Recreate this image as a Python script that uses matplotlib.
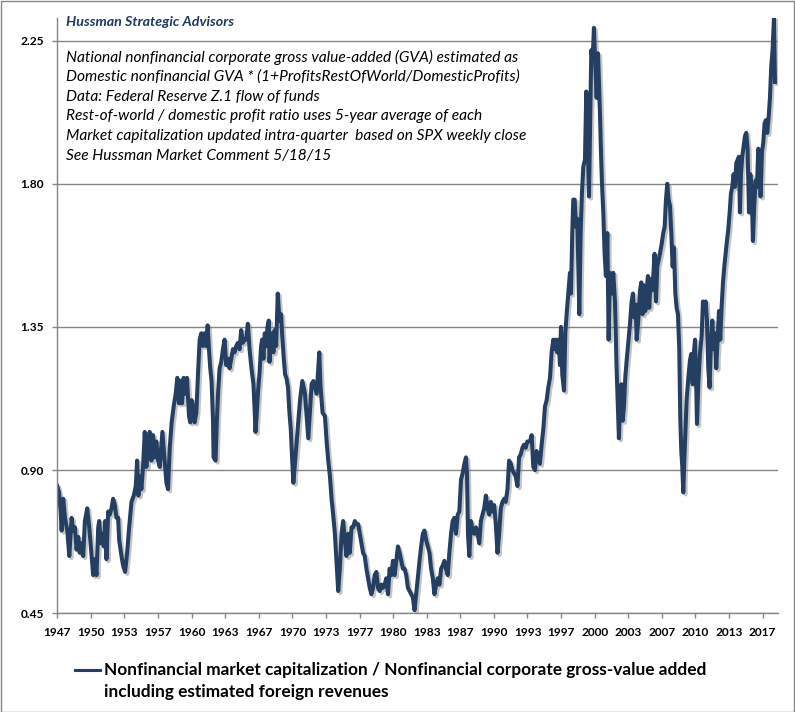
import matplotlib
matplotlib.use("Agg")
import matplotlib.pyplot as plt
import matplotlib.patheffects as pe
from matplotlib.lines import Line2D
from matplotlib.patches import Rectangle

# Nonfinancial market cap / nonfinancial GVA (incl. foreign revenues)
years = [
    1947.00, 1947.17, 1947.33, 1947.43, 1947.59, 1947.76, 1947.99, 1948.19, 1948.42, 1948.58,
    1948.75, 1948.91, 1949.08, 1949.24, 1949.41, 1949.57, 1949.74, 1949.97, 1950.17, 1950.40,
    1950.56, 1950.73, 1950.89, 1951.06, 1951.16, 1951.32, 1951.49, 1951.62, 1951.75, 1951.88,
    1952.05, 1952.21, 1952.38, 1952.54, 1952.71, 1952.87, 1953.04, 1953.14, 1953.37, 1953.53,
    1953.73, 1953.93, 1954.13, 1954.36, 1954.59, 1954.79, 1954.92, 1955.05, 1955.18, 1955.35,
    1955.51, 1955.68, 1955.84, 1956.01, 1956.17, 1956.34, 1956.50, 1956.67, 1956.83, 1957.00,
    1957.17, 1957.43, 1957.63, 1957.83, 1957.99, 1958.16, 1958.35, 1958.55, 1958.75, 1958.91,
    1959.08, 1959.21, 1959.38, 1959.54, 1959.67, 1959.87, 1960.07, 1960.20, 1960.33, 1960.47,
    1960.63, 1960.80, 1960.96, 1961.13, 1961.29, 1961.46, 1961.62, 1961.79, 1961.92, 1962.05,
    1962.18, 1962.31, 1962.45, 1962.51, 1962.71, 1962.84, 1962.97, 1963.11, 1963.27, 1963.44,
    1963.60, 1963.77, 1963.93, 1964.10, 1964.26, 1964.43, 1964.59, 1964.76, 1964.92, 1965.09,
    1965.25, 1965.42, 1965.58, 1965.75, 1965.91, 1966.08, 1966.27, 1966.47, 1966.57, 1966.67,
    1966.80, 1966.93, 1967.06, 1967.23, 1967.33, 1967.46, 1967.59, 1967.73, 1967.86, 1967.99,
    1968.06, 1968.19, 1968.32, 1968.45, 1968.58, 1968.72, 1968.88, 1969.05, 1969.21, 1969.31,
    1969.48, 1969.61, 1969.74, 1969.90, 1970.04, 1970.17, 1970.30, 1970.43,
    1970.76, 1971.09, 1971.32, 1971.58, 1971.91, 1972.24, 1972.41, 1972.74, 1973.00, 1973.13,
    1973.33, 1973.56, 1973.73, 1973.89, 1974.06, 1974.22, 1974.38, 1974.55, 1974.71, 1974.88,
    1975.04, 1975.21, 1975.37, 1975.54, 1975.70, 1975.87, 1976.03, 1976.20, 1976.36, 1976.53,
    1976.69, 1976.86, 1977.02, 1977.18, 1977.35, 1977.51, 1977.68, 1977.84, 1978.01, 1978.17,
    1978.34, 1978.50, 1978.67, 1978.83, 1979.00, 1979.16, 1979.33, 1979.49, 1979.65, 1979.82,
    1979.98, 1980.15, 1980.31, 1980.48, 1980.64, 1980.81, 1980.97, 1981.14, 1981.30, 1981.47,
    1981.63, 1981.80, 1981.96, 1982.13, 1982.29, 1982.45, 1982.62, 1982.78, 1982.95, 1983.11,
    1983.28, 1983.44, 1983.61, 1983.77, 1983.94, 1984.10, 1984.27, 1984.43, 1984.60, 1984.76,
    1984.93, 1985.09, 1985.25, 1985.42, 1985.58, 1985.75, 1985.91, 1986.08, 1986.24, 1986.41,
    1986.57, 1986.74, 1986.90, 1987.07, 1987.23, 1987.40, 1987.56, 1987.66, 1987.76, 1987.89,
    1988.05, 1988.22, 1988.38, 1988.55, 1988.71, 1988.88, 1989.04, 1989.21, 1989.37, 1989.54,
    1989.70, 1989.87, 1990.03, 1990.19, 1990.36, 1990.52, 1990.69, 1990.85, 1991.02, 1991.18,
    1991.35, 1991.51, 1991.68, 1991.84, 1992.01, 1992.17, 1992.34, 1992.50, 1992.67, 1992.83,
    1993.00, 1993.16, 1993.32, 1993.49, 1993.65,
    1993.91, 1994.08, 1994.24, 1994.41, 1994.57, 1994.74, 1994.90, 1995.07, 1995.24, 1995.40,
    1995.57, 1995.73, 1995.90, 1996.06, 1996.23, 1996.39, 1996.49, 1996.62, 1996.76, 1996.89,
    1996.99, 1997.12, 1997.29, 1997.42, 1997.55, 1997.72, 1997.88, 1997.98, 1998.11, 1998.21,
    1998.35, 1998.48, 1998.61, 1998.71, 1998.81, 1998.94, 1999.07, 1999.21, 1999.37, 1999.50,
    1999.64, 1999.77, 1999.90, 2000.00, 2000.13, 2000.26, 2000.40, 2000.53, 2000.66, 2000.76,
    2000.86, 2000.96, 2001.06, 2001.19, 2001.32, 2001.45, 2001.59, 2001.72, 2001.85, 2002.02,
    2002.18, 2002.35, 2002.51, 2002.61, 2002.74, 2002.84, 2002.98, 2003.11, 2003.24, 2003.37,
    2003.51, 2003.67, 2003.84, 2004.00, 2004.13, 2004.27, 2004.40, 2004.50, 2004.66, 2004.83,
    2004.96, 2005.09, 2005.23, 2005.36, 2005.49, 2005.62, 2005.75, 2005.89, 2006.02, 2006.15,
    2006.28, 2006.42, 2006.55, 2006.68, 2006.81, 2006.98, 2007.14, 2007.28, 2007.41, 2007.54,
    2007.67, 2007.81, 2007.94, 2008.07, 2008.20, 2008.34, 2008.47, 2008.60, 2008.73, 2008.83,
    2008.93, 2009.03, 2009.13, 2009.23, 2009.33, 2009.46, 2009.63, 2009.79, 2009.92, 2010.06,
    2010.15, 2010.29, 2010.39, 2010.49, 2010.62, 2010.78, 2010.95, 2011.08, 2011.21, 2011.35,
    2011.48, 2011.61, 2011.74, 2011.87, 2012.01, 2012.14, 2012.27, 2012.40, 2012.54, 2012.67,
    2012.80, 2012.93, 2013.07, 2013.20, 2013.33, 2013.46, 2013.59, 2013.73, 2013.86, 2013.99,
    2014.12, 2014.26, 2014.39, 2014.52, 2014.65, 2014.75, 2014.85, 2014.98, 2015.12, 2015.25,
    2015.38, 2015.51, 2015.65, 2015.78, 2015.91, 2016.04, 2016.17, 2016.31, 2016.44, 2016.57,
    2016.70, 2016.80, 2016.94, 2017.07, 2017.20, 2017.33, 2017.46, 2017.60, 2017.73, 2017.86,
    2017.99, 2018.13, 2018.23,
]
ratio = [
    0.85, 0.83, 0.77, 0.71, 0.81, 0.75, 0.71, 0.63, 0.75, 0.71,
    0.72, 0.65, 0.69, 0.64, 0.67, 0.63, 0.74, 0.78, 0.72, 0.63,
    0.57, 0.62, 0.57, 0.72, 0.74, 0.67, 0.70, 0.66, 0.74, 0.62,
    0.77, 0.76, 0.78, 0.81, 0.79, 0.75, 0.75, 0.68, 0.63, 0.60,
    0.58, 0.64, 0.72, 0.80, 0.82, 0.85, 0.93, 0.82, 0.88, 0.84,
    0.91, 1.02, 0.91, 0.99, 1.02, 0.93, 1.01, 0.94, 0.99, 0.93,
    0.91, 1.02, 0.94, 0.86, 0.84, 0.97, 1.05, 1.10, 1.14, 1.19,
    1.11, 1.18, 1.11, 1.19, 1.14, 1.19, 1.07, 1.05, 1.12, 1.10,
    1.05, 1.08, 1.20, 1.31, 1.33, 1.29, 1.33, 1.29, 1.355, 1.28,
    1.22, 1.18, 1.06, 0.94, 0.93, 1.06, 1.15, 1.22, 1.24, 1.28,
    1.31, 1.23, 1.25, 1.22, 1.25, 1.28, 1.27, 1.29, 1.30, 1.28,
    1.34, 1.30, 1.31, 1.31, 1.36, 1.28, 1.22, 1.17, 1.10, 1.02,
    1.08, 1.15, 1.20, 1.29, 1.31, 1.25, 1.33, 1.29, 1.35, 1.37,
    1.24, 1.30, 1.33, 1.27, 1.34, 1.29, 1.455, 1.37, 1.39, 1.33,
    1.25, 1.20, 1.19, 1.16, 1.08, 1.03, 0.94, 0.86,
    0.99, 1.12, 1.18, 1.14, 1.00, 1.17, 1.18, 1.14, 1.27, 1.16,
    1.08, 1.07, 0.99, 0.93, 0.88, 0.81, 0.76, 0.70, 0.615, 0.52,
    0.59, 0.70, 0.74, 0.68, 0.63, 0.70, 0.64, 0.72, 0.72, 0.74,
    0.73, 0.73, 0.70, 0.67, 0.64, 0.63, 0.59, 0.56, 0.53, 0.51,
    0.53, 0.57, 0.58, 0.53, 0.52, 0.54, 0.53, 0.54, 0.56, 0.51,
    0.59, 0.57, 0.615, 0.57, 0.615, 0.66, 0.64, 0.615, 0.59, 0.59,
    0.57, 0.53, 0.52, 0.51, 0.50, 0.46, 0.51, 0.56, 0.615, 0.66,
    0.70, 0.71, 0.68, 0.66, 0.64, 0.59, 0.56, 0.51, 0.54, 0.56,
    0.54, 0.59, 0.60, 0.615, 0.59, 0.57, 0.64, 0.70, 0.74, 0.75,
    0.70, 0.76, 0.77, 0.87, 0.89, 0.92, 0.94, 0.89, 0.70, 0.63,
    0.74, 0.71, 0.70, 0.72, 0.70, 0.67, 0.74, 0.76, 0.78, 0.82,
    0.78, 0.76, 0.80, 0.77, 0.79, 0.73, 0.64, 0.70, 0.78, 0.80,
    0.81, 0.80, 0.84, 0.93, 0.92, 0.90, 0.89, 0.88, 0.85, 0.94,
    0.95, 0.97, 0.98, 0.97, 0.99,
    0.99, 1.01, 0.91, 0.90, 0.96, 0.94, 0.92, 0.98, 1.03, 1.10,
    1.12, 1.16, 1.19, 1.27, 1.31, 1.28, 1.31, 1.27, 1.31, 1.23,
    1.35, 1.20, 1.15, 1.33, 1.39, 1.455, 1.52, 1.455, 1.645, 1.75,
    1.75, 1.665, 1.69, 1.54, 1.39, 1.645, 1.77, 1.855, 1.875, 2.09,
    1.94, 1.76, 2.01, 2.22, 2.19, 2.29, 2.17, 2.07, 2.21, 2.12,
    2.02, 1.90, 1.80, 1.71, 1.58, 1.51, 1.645, 1.31, 1.52, 1.455,
    1.52, 1.43, 1.22, 1.12, 1.00, 1.12, 1.17, 1.055, 1.10, 1.19,
    1.245, 1.30, 1.36, 1.43, 1.455, 1.38, 1.42, 1.31, 1.37, 1.465,
    1.49, 1.39, 1.48, 1.40, 1.465, 1.51, 1.41, 1.50, 1.465, 1.51,
    1.58, 1.43, 1.54, 1.56, 1.58, 1.61, 1.645, 1.665, 1.75, 1.80,
    1.75, 1.73, 1.645, 1.54, 1.60, 1.455, 1.41, 1.39, 1.28, 1.065,
    0.96, 0.91, 0.83, 0.93, 1.01, 1.12, 1.19, 1.245, 1.265, 1.17,
    1.255, 1.31, 1.20, 1.045, 1.17, 1.265, 1.32, 1.43, 1.41, 1.43,
    1.37, 1.22, 1.16, 1.30, 1.37, 1.28, 1.33, 1.22, 1.31, 1.40,
    1.31, 1.41, 1.49, 1.54, 1.58, 1.62, 1.655, 1.71, 1.77, 1.79,
    1.83, 1.79, 1.865, 1.875, 1.885, 1.71, 1.83, 1.885, 1.92, 1.95,
    1.96, 1.91, 1.71, 1.83, 1.79, 1.62, 1.73, 1.81, 1.79, 1.91,
    1.875, 1.76, 1.90, 1.93, 1.99, 2.00, 1.96, 2.01, 2.07, 2.17,
    2.22, 2.32, 2.12,
]

y_ticks = [0.45, 0.90, 1.35, 1.80, 2.25]
x_ticks = [1947 + 10 * k / 3 for k in range(22)]
x_labels = [str(int(t + 1e-6)) for t in x_ticks]

source = "Hussman Strategic Advisors"
notes = [
    "National nonfinancial corporate gross value-added (GVA) estimated as",
    "Domestic nonfinancial GVA * (1+ProfitsRestOfWorld/DomesticProfits)",
    "Data: Federal Reserve Z.1 flow of funds",
    "Rest-of-world / domestic profit ratio uses 5-year average of each",
    "Market capitalization updated intra-quarter  based on SPX weekly close",
    "See Hussman Market Comment 5/18/15",
]
legend_lines = [
    "Nonfinancial market capitalization / Nonfinancial corporate gross-value added",
    "including estimated foreign revenues",
]

W, H = 795, 712
navy = "#253f62"
grey = "#868686"
font = "Lato"

fig = plt.figure(figsize=(W / 100, H / 100), dpi=100)
ax = fig.add_axes([57.3 / W, 1 - 613.3 / H, (777.7 - 57.3) / W, (613.3 - 18.3) / H])

ax.plot(years, ratio, color=navy, lw=2.9, solid_joinstyle="round",
        path_effects=[pe.SimpleLineShadow(offset=(1.5, -1.5), shadow_color="#808080", alpha=0.45),
                      pe.Normal()])

ax.set_xlim(1947, 2018.5)
ax.set_ylim(0.45, 2.32)
ax.set_yticks(y_ticks)
ax.set_yticklabels([f"{v:.2f}" for v in y_ticks])
ax.set_xticks(x_ticks)
ax.set_xticklabels(x_labels)
ax.yaxis.grid(True, color=grey, lw=1.0)
ax.set_axisbelow(True)
for s in ["top", "right"]:
    ax.spines[s].set_visible(False)
for s in ["left", "bottom"]:
    ax.spines[s].set_color(grey)
    ax.spines[s].set_linewidth(1.0)
ax.tick_params(axis="both", colors=grey, width=1.0, length=3.5, labelcolor="black")
ax.tick_params(axis="x", pad=6.5)
ax.tick_params(axis="y", pad=6)
for lab in ax.get_xticklabels() + ax.get_yticklabels():
    lab.set_fontfamily(font)
    lab.set_fontweight("bold")
    lab.set_fontsize(8.6)

fig.text(66 / W, 1 - 22.3 / H, source, family=font, style="italic", weight="bold",
         color="#1f3864", fontsize=10.3, va="center", ha="left")
for i, line in enumerate(notes):
    fig.text(66 / W, 1 - (57.3 + 19.7 * i) / H, line, family=font, style="italic",
             color="black", fontsize=11.2, va="center", ha="left")

# legend at the bottom, drawn by hand so the sample sits on the first line
fig.add_artist(Line2D([75 / W, 100 / W], [1 - 670 / H, 1 - 670 / H], color=navy, lw=2.2))
for i, line in enumerate(legend_lines):
    fig.text(104 / W, 1 - (670 + 21.7 * i) / H, line, family=font, weight="bold",
             color="black", fontsize=12.4, va="center", ha="left")

fig.add_artist(Rectangle((0.5 / W, 0.5 / H), 1 - 1.5 / W, 1 - 1.5 / H, transform=fig.transFigure,
                         fill=False, edgecolor=grey, lw=1.0))

fig.savefig("out.png", dpi=100)
